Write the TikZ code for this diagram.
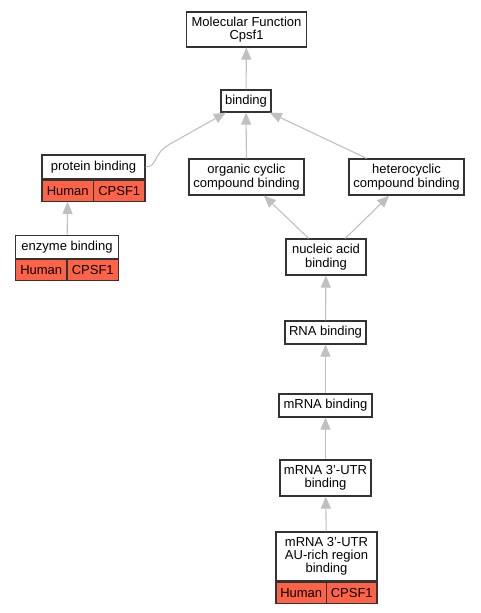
\documentclass[tikz,border=0pt]{standalone}
\usepackage{fontspec}
\setmainfont{Liberation Sans}
\usepackage{tikz}
\usetikzlibrary{arrows.meta,positioning}

\definecolor{hitred}{RGB}{255,99,71}
\definecolor{edgegray}{RGB}{192,192,192}

\begin{document}
\begin{tikzpicture}[x=1pt,y=-1pt,
  term/.style={draw=black!80,fill=white,line width=1.2pt,inner xsep=2pt,inner ysep=0pt,
    align=center,font=\fontsize{13}{13.3}\selectfont},
  gene/.style={term,fill=hitred,minimum height=21pt},
  edge/.style={draw=edgegray,line width=1.1pt,-{Triangle[length=12pt,width=10pt]}}
]
  \useasboundingbox (0,0) rectangle (480,613);
  \node[term,minimum width=120pt,minimum height=35pt] (mf)   at (246.5,29.5) {Molecular Function\\Cpsf1};
  \node[term,minimum width=50pt,minimum height=22pt]  (bind) at (246,101)    {binding};
  \node[term,minimum width=103pt,minimum height=24pt] (prot) at (93.5,167)   {protein binding};
  \node[gene,minimum width=51.5pt,anchor=north west]  (protH) at (prot.south west) {Human};
  \node[gene,minimum width=51.5pt,anchor=north east]  (protG) at (prot.south east) {CPSF1};
  \node[term,minimum width=103pt,minimum height=23pt] (enz)  at (67,247)     {enzyme binding};
  \node[gene,minimum width=51.5pt,anchor=north west]  (enzH) at (enz.south west) {Human};
  \node[gene,minimum width=51.5pt,anchor=north east]  (enzG) at (enz.south east) {CPSF1};
  \node[term,minimum width=115pt,minimum height=36pt] (org)  at (246.5,177)  {organic cyclic\\compound binding};
  \node[term,minimum width=115pt,minimum height=36pt] (het)  at (406.5,177)  {heterocyclic\\compound binding};
  \node[term,minimum width=80pt,minimum height=36pt]  (nuc)  at (326,257)    {nucleic acid\\binding};
  \node[term,minimum width=81pt,minimum height=23pt]  (rna)  at (325.5,332.5) {RNA binding};
  \node[term,minimum width=93pt,minimum height=23pt]  (mrna) at (325.5,405.5) {mRNA binding};
  \node[term,minimum width=91pt,minimum height=36pt]  (utr)  at (325.5,478)  {mRNA 3'-UTR\\binding};
  \node[term,minimum width=101pt,minimum height=49pt] (aur)  at (326.5,556.5) {mRNA 3'-UTR\\AU-rich region\\binding};
  \node[gene,minimum width=50.5pt,anchor=north west]  (aurH) at (aur.south west) {Human};
  \node[gene,minimum width=50.5pt,anchor=north east]  (aurG) at (aur.south east) {CPSF1};

  \draw[edge] (bind) -- (mf);
  \draw[edge] (org) -- (bind);
  \draw[edge] (het.155) -- (bind.-26);
  \draw[edge] (prot.east) .. controls (158,167) and (152,154) .. (170,144) -- (bind.210);
  \draw[edge] (enz) -- (protH);
  \draw[edge] (nuc.133) -- (org.-47);
  \draw[edge] (nuc.44) -- (het.-133);
  \draw[edge] (rna) -- (nuc);
  \draw[edge] (mrna) -- (rna);
  \draw[edge] (utr) -- (mrna);
  \draw[edge] (aur) -- (utr);
\end{tikzpicture}
\end{document}
